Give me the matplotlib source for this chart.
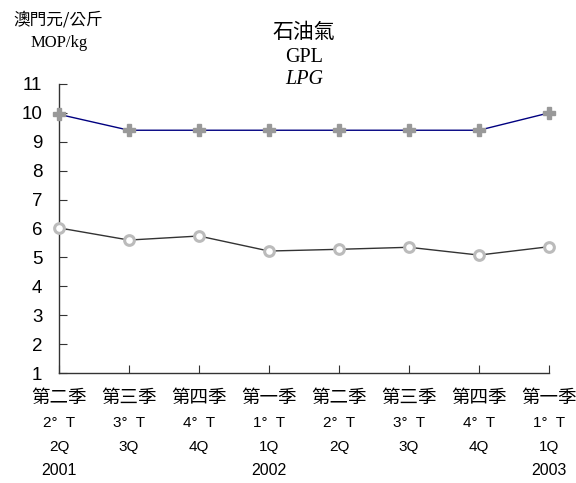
import matplotlib
matplotlib.use("Agg")
import matplotlib.pyplot as plt
import numpy as np

# data
quarters_zh = ["第二季", "第三季", "第四季", "第一季", "第二季", "第三季", "第四季", "第一季"]
quarters_pt = ["2°  T", "3°  T", "4°  T", "1°  T", "2°  T", "3°  T", "4°  T", "1°  T"]
quarters_en = ["2Q", "3Q", "4Q", "1Q", "2Q", "3Q", "4Q", "1Q"]
years = ["2001", "", "", "2002", "", "", "", "2003"]
upper = [9.95, 9.4, 9.4, 9.4, 9.4, 9.4, 9.4, 10.0]
lower = [6.02, 5.6, 5.74, 5.22, 5.28, 5.35, 5.08, 5.37]
yticks = list(range(1, 12))

CJK = "Noto Sans CJK TC"
SANS = ["Liberation Sans", "DejaVu Sans"]
SERIF = "Liberation Serif"

fig = plt.figure(figsize=(5.76, 4.83), dpi=100)
ax = fig.add_axes([59/576, 1-373/483, (549-59)/576, (373-84)/483])

x = np.arange(len(upper))
ax.plot(x, upper, color="#000080", lw=1.0, marker="P", ms=8, mfc="#999999", mec="#999999",
        clip_on=False, zorder=3)
ax.plot(x, lower, color="#333333", lw=1.0, marker="o", ms=7, mfc="white", mec="#bbbbbb",
        mew=2.2, clip_on=False, zorder=3)

ax.set_xlim(0, len(x)-1)
ax.set_ylim(1, 11)
ax.set_yticks(yticks)
ax.set_xticks(x)
ax.set_xticklabels([])
for lbl in ax.set_yticklabels([str(t) for t in yticks]):
    lbl.set_family(SANS)
    lbl.set_fontsize(13.5)

for s in ["top", "right"]:
    ax.spines[s].set_visible(False)
for s in ["left", "bottom"]:
    ax.spines[s].set_color("#333333")
    ax.spines[s].set_linewidth(1.0)
ax.tick_params(axis="y", direction="in", length=6, color="#333333", pad=12)
ax.tick_params(axis="x", direction="in", length=6, color="#333333")

tr = ax.get_xaxis_transform()
for i in x:
    ax.text(i, -0.087, quarters_zh[i], transform=tr, ha="center", va="center",
            fontsize=13.3, family=CJK)
    ax.text(i, -0.173, quarters_pt[i], transform=tr, ha="center", va="center",
            fontsize=11, family=SANS)
    ax.text(i, -0.256, quarters_en[i], transform=tr, ha="center", va="center",
            fontsize=11, family=SANS)
    if years[i]:
        ax.text(i, -0.336, years[i], transform=tr, ha="center", va="center",
                fontsize=11.5, family=SANS)

# titles
fig.text(304/576, 1-32/483, "石油氣", ha="center", va="center", fontsize=15, family=CJK)
fig.text(304/576, 1-57/483, "GPL", ha="center", va="center", fontsize=14.5, family=SERIF)
fig.text(304/576, 1-80/483, "LPG", ha="center", va="center", fontsize=14.5, family=SERIF,
         style="italic")
fig.text(58/576, 1-20/483, "澳門元/公斤", ha="center", va="center", fontsize=12, family=CJK)
fig.text(59/576, 1-43/483, "MOP/kg", ha="center", va="center", fontsize=12, family=SERIF)

fig.savefig("out.png", dpi=100)
